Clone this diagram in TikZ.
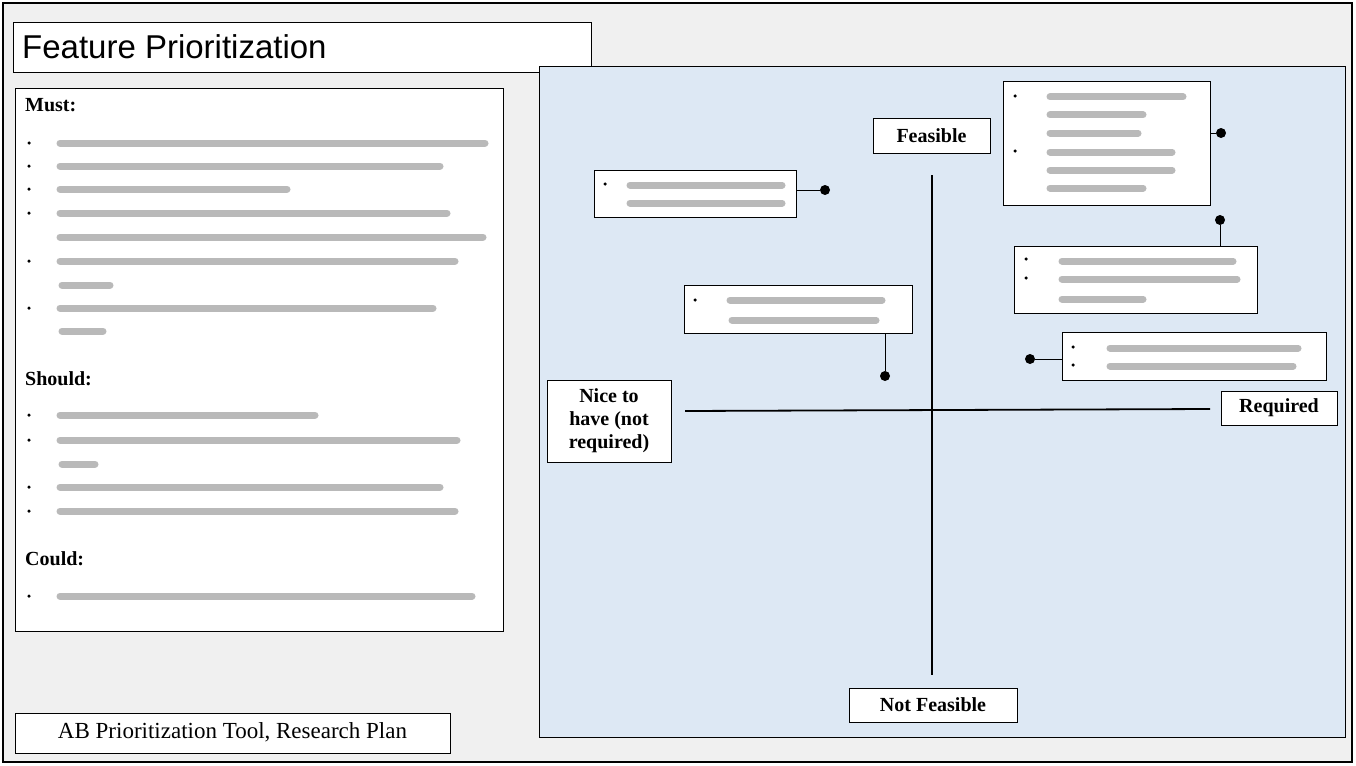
\documentclass[tikz,border=0pt]{standalone}
\usepackage{fontspec}
\setmainfont{Liberation Serif}
\newfontfamily\titlefont{Liberation Sans}
\definecolor{panel}{RGB}{221,232,244}
\definecolor{bg}{RGB}{240,240,240}
\begin{document}
\begin{tikzpicture}[x=1pt,y=-1pt,
  box/.style={draw=black,fill=white,line width=1pt},
  lbl/.style={box,font=\fontsize{20}{23}\selectfont\bfseries,align=center,inner sep=0pt},
  blur/.style={line width=7pt,draw=gray!55,line cap=round},
  dot/.style={circle,fill=black,inner sep=0pt,minimum size=10pt},
  bul/.style={circle,fill=black,inner sep=0pt,minimum size=3.5pt},
  axis/.style={line width=1.8pt},
  conn/.style={line width=1pt}]
\useasboundingbox (0,0) rectangle (1356,765);
\draw[fill=bg,line width=1.2pt] (3,3) rectangle (1352,762);
% title
\node[box,minimum width=578pt,minimum height=50pt,anchor=north west,inner sep=0pt] (title) at (13,22) {};
\node[anchor=west,font=\titlefont\fontsize{33}{35}\selectfont,inner sep=0pt] (titletext) at (22,47) {Feature Prioritization};
% left list
\node[box,minimum width=488pt,minimum height=543pt,anchor=north west,inner sep=0pt] (list) at (15,88) {};
\node[anchor=west,font=\fontsize{20}{22}\selectfont\bfseries,inner sep=0pt] (must) at (25,105) {Must:};
\node[anchor=west,font=\fontsize{20}{22}\selectfont\bfseries,inner sep=0pt] (should) at (25,379) {Should:};
\node[anchor=west,font=\fontsize{20}{22}\selectfont\bfseries,inner sep=0pt] (could) at (25,559) {Could:};
\foreach \y in {143,166,189,213,261,308,415,440,487,511,596} \node[bul] at (29,\y) {};
\foreach \y/\e in {143/485,166/440,189/287,213/447,237/483,261/455,308/433,415/315,440/457,487/440,511/455,596/472}
  \draw[blur] (60,\y) -- (\e,\y);
\foreach \y/\e in {285/110,331/103,464/95} \draw[blur] (62,\y) -- (\e,\y);
% panel
\draw[fill=panel,line width=1pt] (539,67) rectangle (1345,737);
% axes
\coordinate (vt) at (932,175); \coordinate (vb) at (932,675);
\coordinate (hl) at (685,411); \coordinate (hr) at (1210,409);
\draw[axis] (vt) -- (vb);
\draw[axis] (hl) -- (hr);
\node[lbl,minimum width=117pt,minimum height=35pt] (feas) at (931.5,136) {Feasible};
\node[lbl,minimum width=168pt,minimum height=34pt] (notfeas) at (933,705) {Not Feasible};
\node[lbl,minimum width=124pt,minimum height=82pt,font=\fontsize{20}{23}\selectfont\bfseries] (nice) at (609,421) {Nice to\\have (not\\required)};
\node[lbl,minimum width=116pt,minimum height=34pt] (req) at (1279,408) {Required};
% boxes
\node[box,minimum width=202pt,minimum height=47pt,inner sep=0pt] (A) at (695,193.5) {};
\node[box,minimum width=228pt,minimum height=48pt,inner sep=0pt] (B) at (798,309) {};
\node[box,minimum width=207pt,minimum height=123pt,inner sep=0pt] (C) at (1106.5,143.5) {};
\node[box,minimum width=243pt,minimum height=67pt,inner sep=0pt] (D) at (1135.5,279.5) {};
\node[box,minimum width=264pt,minimum height=48pt,inner sep=0pt] (E) at (1194,356) {};
\node[dot] (dA) at (825,190) {};
\node[dot] (dB) at (885,376) {};
\node[dot] (dC) at (1221,133) {};
\node[dot] (dD) at (1220,220) {};
\node[dot] (dE) at (1030,359) {};
\draw[conn] (A.east |- dA) -- (dA);
\draw[conn] (dB |- B.south) -- (dB);
\draw[conn] (C.east |- dC) -- (dC);
\draw[conn] (dD |- D.north) -- (dD);
\draw[conn] (E.west |- dE) -- (dE);
% box contents
\node[bul] at (605,184) {}; \draw[blur] (630,185) -- (782,185); \draw[blur] (630,203) -- (782,203);
\node[bul] at (695,300) {}; \draw[blur] (730,300) -- (882,300); \draw[blur] (732,320) -- (876,320);
\node[bul] at (1015,96) {}; \node[bul] at (1015,151) {};
\foreach \y/\e in {97/1183,115/1143,133/1138,152/1172,170/1172,188/1143} \draw[blur] (1050,\y) -- (\e,\y);
\node[bul] at (1026,259) {}; \node[bul] at (1026,278) {};
\foreach \y/\e in {261/1233,279/1237,299/1143} \draw[blur] (1062,\y) -- (\e,\y);
\node[bul] at (1073,347) {}; \node[bul] at (1073,365) {};
\foreach \y/\e in {348/1298,366/1293} \draw[blur] (1110,\y) -- (\e,\y);
% footer
\node[box,minimum width=435pt,minimum height=40pt,inner sep=0pt] (foot) at (232.5,733) {};
\node[font=\fontsize{23}{25}\selectfont,inner sep=0pt] (foottext) at (232.5,732) {AB Prioritization Tool, Research Plan};
\end{tikzpicture}
\end{document}
